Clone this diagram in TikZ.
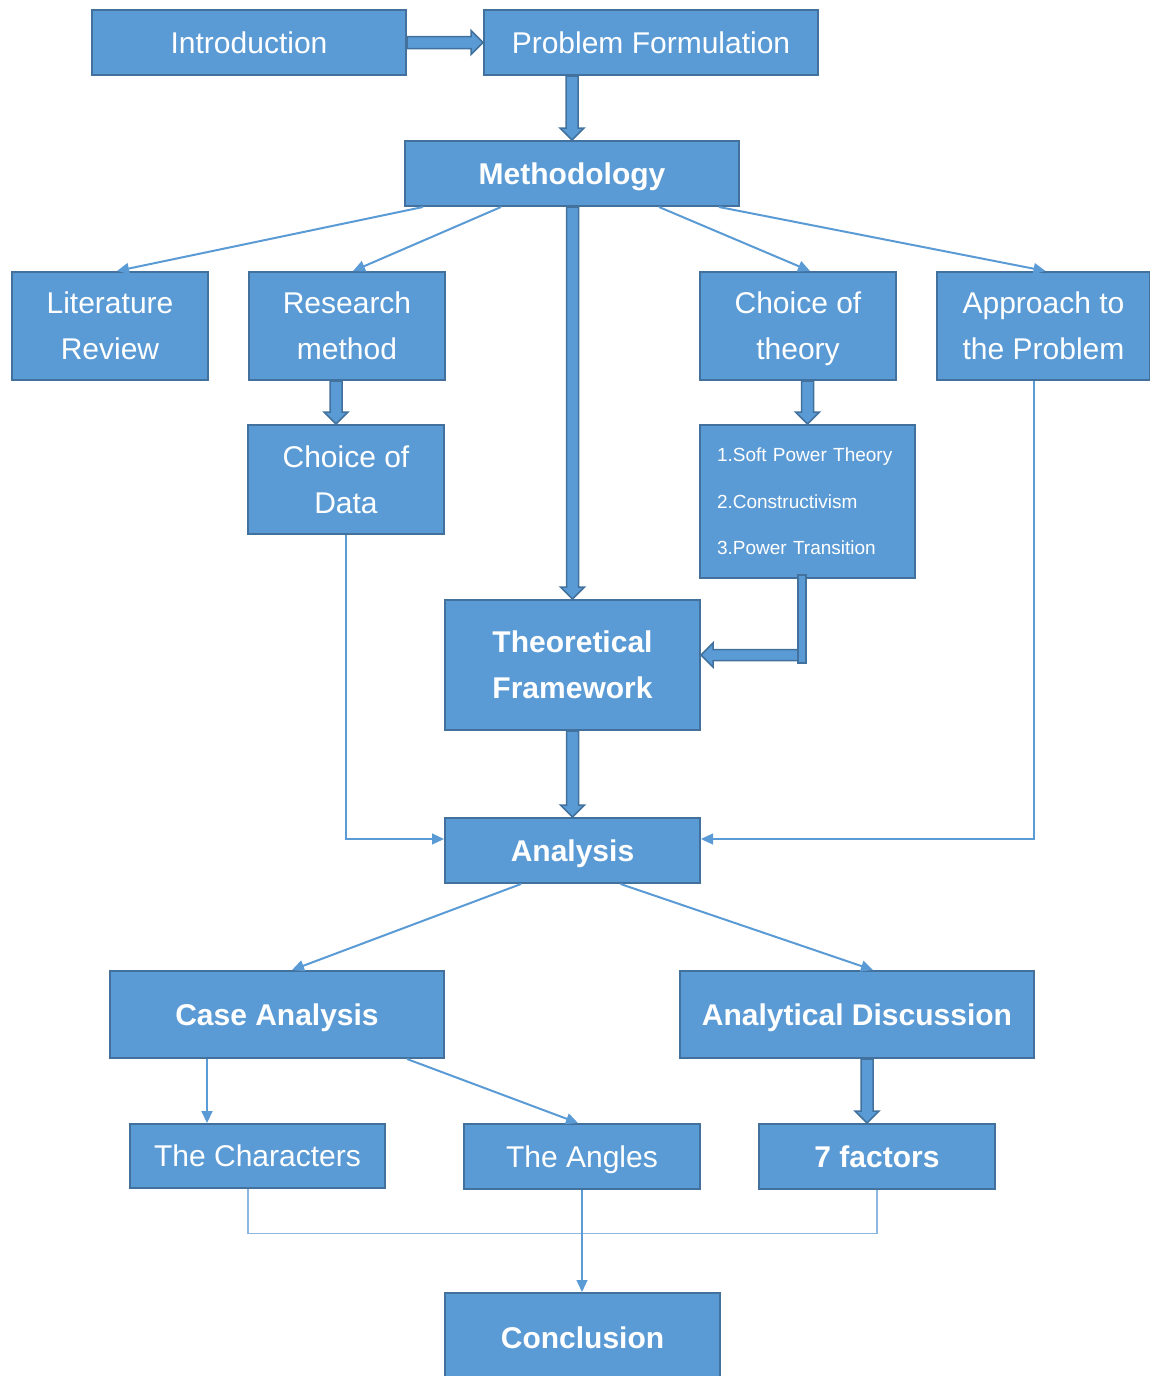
\documentclass[tikz,border=0pt]{standalone}
\usepackage{fontspec}
\setmainfont{Liberation Sans}
\usetikzlibrary{calc,arrows.meta}
\definecolor{bfill}{HTML}{5B9BD5}
\definecolor{bline}{HTML}{41719C}
\definecolor{thin}{HTML}{5B9BD5}
\definecolor{faint}{HTML}{8DB7E0}
% vertical (downward) block arrow: #2 start, #3 end
\newcommand{\barrdown}[3][6]{%
  \filldraw[barrow] let \p1=#2, \p2=#3 in
   (\x1-#1pt,\y1) -- (\x1-#1pt,\y2+12pt) -- (\x1-12pt,\y2+12pt) -- (\x1,\y2)
   -- (\x1+12pt,\y2+12pt) -- (\x1+#1pt,\y2+12pt) -- (\x1+#1pt,\y1) -- cycle;}
% horizontal block arrow: #2 start, #3 end, #4 direction (1 right, -1 left)
\newcommand{\barrh}[4][6]{%
  \filldraw[barrow] let \p1=#2, \p2=#3 in
   (\x1,\y1+#1pt) -- ({\x2-(#4)*12pt},\y1+#1pt) -- ({\x2-(#4)*12pt},\y1+12pt) -- (\x2,\y1)
   -- ({\x2-(#4)*12pt},\y1-12pt) -- ({\x2-(#4)*12pt},\y1-#1pt) -- (\x1,\y1-#1pt) -- cycle;}
\begin{document}
\begin{tikzpicture}[x=1pt,y=-1pt,
  box/.style={draw=bline, fill=bfill, line width=2pt, text=white, inner sep=0pt, align=center, text depth=-2pt, font=\fontsize{30}{46}\selectfont},
  bbox/.style={box, font=\fontsize{30}{46}\selectfont\bfseries},
  barrow/.style={draw=bline, fill=bfill, line width=1.5pt, line join=miter},
  conn/.style={draw=thin, line width=2pt, -{Triangle[length=12pt,width=11pt]}},
  fconn/.style={draw=thin, line width=1.2pt, -{Triangle[length=12pt,width=11pt]}},
  fline/.style={draw=faint, line width=1.2pt}]
\useasboundingbox (0,0) rectangle (1149,1376);
% nodes
\node[box, minimum width=314, minimum height=65] (intro) at (249,42.5) {Introduction};
\node[box, minimum width=334, minimum height=65] (pf) at (651,42.5) {Problem Formulation};
\node[bbox, minimum width=334, minimum height=65] (meth) at (572,173.5) {Methodology};
\node[box, minimum width=196, minimum height=108] (lit) at (110,326) {Literature\\Review};
\node[box, minimum width=196, minimum height=108] (res) at (347,326) {Research\\method};
\node[box, minimum width=196, minimum height=108] (cth) at (798,326) {Choice of\\theory};
\node[box, minimum width=213, minimum height=108] (app) at (1043.5,326) {Approach to\\the Problem};
\node[box, minimum width=196, minimum height=109] (data) at (346,479.5) {Choice of\\Data};
\node[box, minimum width=215, minimum height=153, align=left, text width=181, text depth={}, font=\fontsize{19}{46.5}\selectfont] (list) at (807.5,501.5) {1.Soft Power Theory\\2.Constructivism\\3.Power Transition};
\node[bbox, minimum width=255, minimum height=130] (tf) at (572.5,665) {Theoretical\\Framework};
\node[bbox, minimum width=255, minimum height=65] (ana) at (572.5,850.5) {Analysis};
\node[bbox, minimum width=334, minimum height=87] (case) at (277,1014.5) {Case Analysis};
\node[bbox, minimum width=354, minimum height=87] (disc) at (857,1014.5) {Analytical Discussion};
\node[box, minimum width=255, minimum height=64] (chars) at (257.5,1156) {The Characters};
\node[box, minimum width=236, minimum height=65] (angles) at (582,1156.5) {The Angles};
\node[bbox, minimum width=236, minimum height=65] (fac) at (877,1156.5) {7 factors};
\node[bbox, minimum width=275, minimum height=90] (concl) at (582.5,1338) {Conclusion};
% block arrows
\barrh{(intro.east)}{(pf.west)}{1}
\barrdown{(meth.north |- pf.south)}{(meth.north)}
\barrdown{($(meth.south)+(0.5,0)$)}{(tf.north)}
\barrdown{($(res.south)+(-11,0)$)}{($(data.north)+(-10,0)$)}
\barrdown{(list.north |- cth.south)}{(list.north)}
\barrh[5.5]{($(list.south)+(-5.5,76)$)}{($(tf.east)+(0,-11)$)}{-1}
\filldraw[barrow] ($(list.south)+(-9.5,-4)$) rectangle ($(list.south)+(-1.5,84)$);
\barrdown{(tf.south)}{(ana.north)}
\barrdown{($(disc.south)+(10,0)$)}{($(fac.north)+(-10,0)$)}
% thin connectors
\draw[conn] ($(meth.south west)+(19,0)$) -- ($(lit.north)+(7,0)$);
\draw[conn] ($(meth.south west)+(97,0)$) -- ($(res.north)+(6,0)$);
\draw[conn] ($(meth.south)+(87,0)$) -- ($(cth.north)+(12,0)$);
\draw[conn] ($(meth.south)+(147,0)$) -- ($(app.north)+(2,0)$);
\draw[fconn] (data.south) |- ($(ana.west)+(0,-11.5)$);
\draw[fconn] ($(app.south)+(-9.5,0)$) |- ($(ana.east)+(0,-11.5)$);
\draw[conn] ($(ana.south west)+(77,0)$) -- ($(case.north)+(15,0)$);
\draw[conn] ($(ana.south)+(48,0)$) -- ($(disc.north)+(16,0)$);
\draw[conn] ($(case.south west)+(98,0)$) -- ($(chars.north west)+(78,0)$);
\draw[conn] ($(case.south east)+(-38,0)$) -- ($(angles.north)+(-4,0)$);
\coordinate (jn) at ($(angles.south)+(0,43.5)$);
\draw[fline] ($(chars.south)+(-9.5,0)$) |- (jn) -| (fac.south);
\draw[fconn] (angles.south) -- (angles.south |- concl.north);
\end{tikzpicture}
\end{document}
